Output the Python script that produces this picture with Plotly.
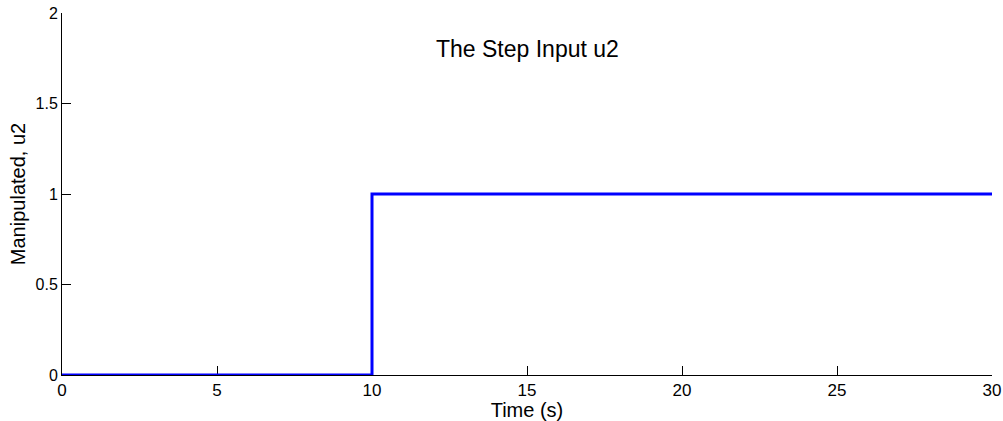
import plotly.graph_objects as go

time_s = [0, 10, 10, 30]
u2 = [0, 0, 1, 1]
x_ticks = [0, 5, 10, 15, 20, 25, 30]
y_ticks = [0, 0.5, 1, 1.5, 2]
y_tick_labels = ["0", "0.5", "1", "1.5", "2"]
title_text = "The Step Input u2"

fig = go.Figure()
fig.add_trace(go.Scatter(x=time_s, y=u2, mode="lines",
                         line=dict(color="#0000ff", width=3),
                         cliponaxis=False, showlegend=False))

font = "Liberation Sans, Arial, sans-serif"
fig.update_layout(
    width=1003, height=421,
    margin=dict(l=62, r=11, t=13, b=46, autoexpand=False),
    paper_bgcolor="white", plot_bgcolor="white",
    font=dict(family=font, size=17, color="black"),
    annotations=[dict(x=15, y=1.8, xref="x", yref="y", text=title_text,
                      showarrow=False, font=dict(size=23, family=font, color="black"))],
)
fig.update_xaxes(range=[0, 30], tickvals=x_ticks, ticks="inside", ticklen=9,
                 tickcolor="black", showline=True, linecolor="black", linewidth=1,
                 showgrid=False, zeroline=False, layer="below traces", automargin=False,
                 title=dict(text="Time (s)", standoff=0, font=dict(size=20)),
                 tickfont=dict(size=17))
fig.update_yaxes(range=[0, 2], tickvals=y_ticks, ticktext=y_tick_labels, ticks="inside", ticklen=9,
                 tickcolor="black", showline=True, linecolor="black", linewidth=1,
                 showgrid=False, zeroline=False, layer="below traces", automargin=False,
                 title=dict(text="Manipulated, u2", standoff=4, font=dict(size=20)),
                 tickfont=dict(size=16))

fig.write_html("out.html")
